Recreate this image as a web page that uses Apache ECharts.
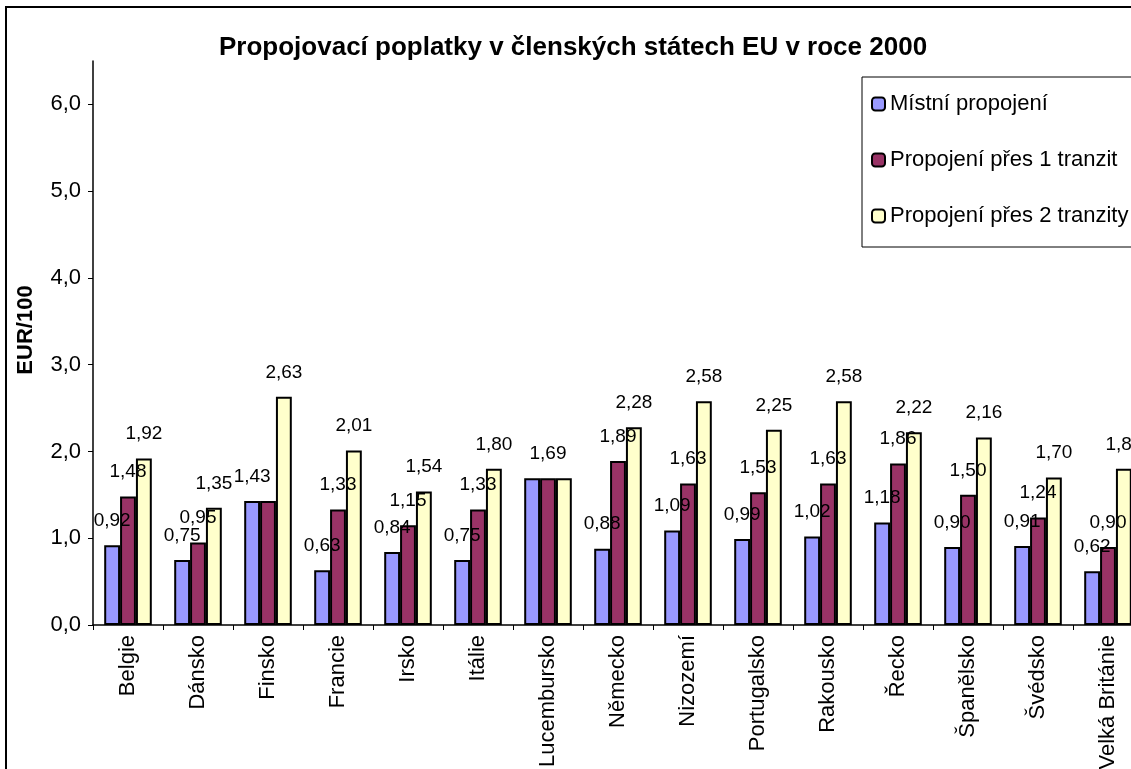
<!DOCTYPE html>
<html>
<head>
<meta charset="utf-8">
<title>Propojovací poplatky</title>
<script src="https://cdn.jsdelivr.net/npm/echarts@6/dist/echarts.min.js"></script>
<style>
    html, body { margin: 0; padding: 0; background: #fff; }
    #chart { width: 1131px; height: 769px; }
</style>
</head>
<body>
<div id="chart"></div>
<script>
// státy (kategorie osy x)
const countries = ['Belgie', 'Dánsko', 'Finsko', 'Francie', 'Irsko', 'Itálie', 'Lucembursko',
    'Německo', 'Nizozemí', 'Portugalsko', 'Rakousko', 'Řecko', 'Španělsko', 'Švédsko', 'Velká Británie'];

// EUR za 100
const localCall = [0.92, 0.75, 1.43, 0.63, 0.84, 0.75, 1.69, 0.88, 1.09, 0.99, 1.02, 1.18, 0.90, 0.91, 0.62];
const oneTransit = [1.48, 0.95, 1.43, 1.33, 1.15, 1.33, 1.69, 1.89, 1.63, 1.53, 1.63, 1.86, 1.50, 1.24, 0.90];
const twoTransits = [1.92, 1.35, 2.63, 2.01, 1.54, 1.80, 1.69, 2.28, 2.58, 2.25, 2.58, 2.22, 2.16, 1.70, 1.80];

const seriesNames = ['Místní propojení', 'Propojení přes 1 tranzit', 'Propojení přes 2 tranzity'];
const yTicks = [0, 1, 2, 3, 4, 5, 6];

// popisky, které v originále chybí (řada, stát)
const hiddenLabels = [[1, 'Finsko'], [0, 'Lucembursko'], [2, 'Lucembursko']];

const colors = ['#9999FF', '#993366', '#FFFFCC'];
const font = 'Liberation Sans, Arial, sans-serif';

function comma(v, d) {
    return v.toFixed(d).replace('.', ',');
}

function buildData(values, s) {
    return values.map(function (v, i) {
        const hide = hiddenLabels.some(function (h) { return h[0] === s && h[1] === countries[i]; });
        return hide ? { value: v, label: { show: false } } : v;
    });
}

var myChart = echarts.init(document.getElementById('chart'));

var option = {
    animation: false,
    title: {
        text: 'Propojovací poplatky v členských státech EU v roce 2000',
        left: 214,
        top: 30,
        textStyle: { fontFamily: font, fontSize: 26, fontWeight: 'bold', color: '#000' }
    },
    legend: {
        orient: 'vertical',
        left: 862,
        top: 77,
        padding: [16, 60, 20, 9],
        itemGap: 34,
        itemWidth: 13,
        itemHeight: 13,
        borderColor: '#000',
        borderWidth: 1,
        backgroundColor: '#fff',
        textStyle: { fontFamily: font, fontSize: 22, color: '#000', lineHeight: 21 },
        data: seriesNames
    },
    grid: { left: 93, right: -12, top: 61, bottom: 144, outerBoundsMode: 'none' },
    xAxis: {
        type: 'category',
        data: countries,
        axisLine: { lineStyle: { color: '#000', width: 1.5 } },
        axisTick: { show: true, length: 5, lineStyle: { color: '#000' } },
        axisLabel: {
            interval: 0, rotate: 90, margin: 10,
            fontFamily: font, fontSize: 22, color: '#000'
        }
    },
    yAxis: {
        type: 'value',
        min: 0,
        max: 6.5,
        interval: 1,
        splitLine: { show: false },
        axisLine: { show: true, lineStyle: { color: '#000', width: 1.5 } },
        axisTick: { show: true, length: 5, lineStyle: { color: '#000' }, customValues: yTicks },
        axisLabel: {
            customValues: yTicks,
            margin: 12,
            fontFamily: font, fontSize: 22, color: '#000',
            formatter: function (v) { return comma(v, 1); }
        }
    },
    graphic: [
        {
            type: 'text',
            x: 26, y: 330,
            rotation: Math.PI / 2,
            style: {
                text: 'EUR/100',
                font: 'bold 22px ' + font,
                fill: '#000',
                textAlign: 'center',
                textVerticalAlign: 'middle'
            }
        },
        {
            type: 'rect',
            shape: { x: 6, y: 7, width: 1300, height: 900 },
            style: { fill: 'none', stroke: '#000', lineWidth: 2 },
            silent: true
        }
    ],
    series: [localCall, oneTransit, twoTransits].map(function (vals, s) {
        return {
            name: seriesNames[s],
            type: 'bar',
            barGap: '0%',
            barCategoryGap: '32%',
            data: buildData(vals, s),
            itemStyle: { color: colors[s], borderColor: '#000', borderWidth: 2 },
            label: {
                show: true,
                position: 'top',
                distance: 15,
                fontFamily: font,
                fontSize: 19,
                color: '#000',
                formatter: function (p) { return comma(p.value, 2); }
            }
        };
    })
};

myChart.setOption(option);
</script>
</body>
</html>
